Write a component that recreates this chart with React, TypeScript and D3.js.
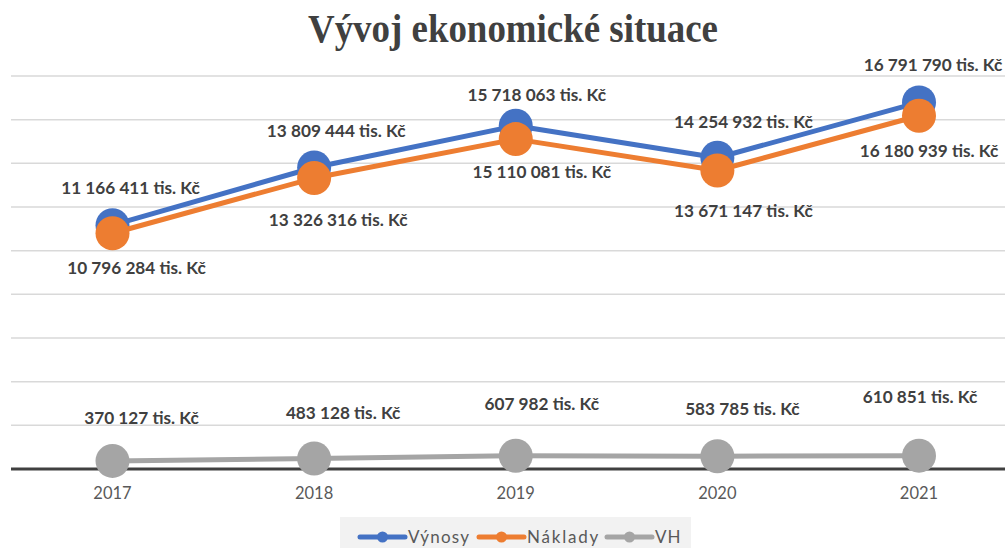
import React from 'react';
import * as d3 from 'd3';

const years = ['2017', '2018', '2019', '2020', '2021'];
const vynosy = [11166411, 13809444, 15718063, 14254932, 16791790];
const naklady = [10796284, 13326316, 15110081, 13671147, 16180939];
const vh = [370127, 483128, 607982, 583785, 610851];
const yTicks = [0, 2000000, 4000000, 6000000, 8000000, 10000000, 12000000, 14000000, 16000000, 18000000];

// label nudges (dx, dy) as placed in the original chart
const labelNudge = {
    vynosy: [[18, -37], [22, -37], [21, -31], [26, -36], [14, -37]],
    naklady: [[24, 35], [24, 42], [26, 33], [26, 40], [10, 35]],
    vh: [[29, -43], [29, -45], [26, -52], [25, -47], [1, -59]],
};

const width = 1005;
const height = 548;

const fmt = (v: number) => d3.format(',')(v).replace(/,/g, ' ') + ' tis. Kč';

const App = () => {
    const x = d3.scalePoint().domain(years).range([112.5, 919]);
    const y = d3.scaleLinear().domain([0, 18000000]).range([469, 76]);

    const line = d3.line<number>()
        .x((_, i) => x(years[i]) as number)
        .y(d => y(d));

    const series = [
        { key: 'vynosy', name: 'Výnosy', values: vynosy, color: '#4472C4' },
        { key: 'naklady', name: 'Náklady', values: naklady, color: '#ED7D31' },
        { key: 'vh', name: 'VH', values: vh, color: '#A5A5A5' },
    ];

    const legendItems = [
        { name: 'Výnosy', color: '#4472C4', x: 360, spacing: 1.2 },
        { name: 'Náklady', color: '#ED7D31', x: 479, spacing: 1.8 },
        { name: 'VH', color: '#A5A5A5', x: 607, spacing: 1 },
    ];

    return (
        <div style={{ position: 'fixed', left: 0, top: 0 }}>
            <svg width={width} height={height} style={{ display: 'block', background: '#fff' }}>
                <text
                    x={513}
                    y={42}
                    textAnchor="middle"
                    fontFamily="'Liberation Serif', 'DejaVu Serif', serif"
                    fontWeight="bold"
                    fontSize="40"
                    fill="#404040"
                    textLength={410}
                    lengthAdjust="spacingAndGlyphs"
                >
                    Vývoj ekonomické situace
                </text>

                {yTicks.slice(1).map(t => (
                    <line key={t} x1={11} x2={width} y1={y(t)} y2={y(t)} stroke="#d9d9d9" strokeWidth={1.5} />
                ))}
                <line x1={11} x2={width} y1={y(0)} y2={y(0)} stroke="#404040" strokeWidth={3} />

                {years.map(yr => (
                    <text
                        key={yr}
                        x={x(yr)}
                        y={499}
                        textAnchor="middle"
                        fontFamily="Lato, 'Open Sans', sans-serif"
                        fontSize="16.5"
                        fill="#595959"
                    >
                        {yr}
                    </text>
                ))}

                {series.map(s => (
                    <g key={s.key}>
                        <path d={line(s.values) || ''} fill="none" stroke={s.color} strokeWidth={5} strokeLinejoin="round" />
                        {s.values.map((v, i) => (
                            <circle key={i} cx={x(years[i])} cy={y(v)} r={17} fill={s.color} />
                        ))}
                    </g>
                ))}

                {series.map(s => (
                    <g key={s.key + '-labels'}>
                        {s.values.map((v, i) => {
                            const [dx, dy] = labelNudge[s.key as keyof typeof labelNudge][i];
                            return (
                                <text
                                    key={i}
                                    x={(x(years[i]) as number) + dx}
                                    y={y(v) + dy}
                                    dy="0.35em"
                                    textAnchor="middle"
                                    fontFamily="Lato, 'Open Sans', sans-serif"
                                    fontWeight="bold"
                                    fontSize="17.2"
                                    fill="#404040"
                                >
                                    {fmt(v)}
                                </text>
                            );
                        })}
                    </g>
                ))}

                <rect x={340} y={517} width={351} height={31} fill="#f2f2f2" />
                {legendItems.map(it => (
                    <g key={it.name}>
                        <line x1={it.x} x2={it.x + 45} y1={537} y2={537} stroke={it.color} strokeWidth={5} strokeLinecap="round" />
                        <circle cx={it.x + 22.5} cy={537} r={5.5} fill={it.color} />
                        <text
                            x={it.x + 48}
                            y={543}
                            fontFamily="Lato, 'Open Sans', sans-serif"
                            fontSize="17"
                            letterSpacing={it.spacing}
                            fill="#595959"
                        >
                            {it.name}
                        </text>
                    </g>
                ))}
            </svg>
        </div>
    );
};

export default App;
